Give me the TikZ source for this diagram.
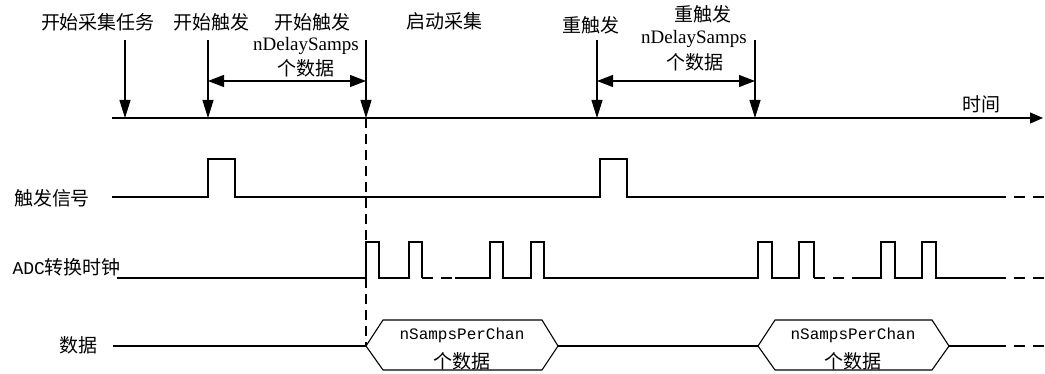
\documentclass[tikz,border=0pt]{standalone}
\usepackage{fontspec}
\setmainfont{Liberation Serif}
\setmonofont{Liberation Mono}
\newfontfamily\cjk{Noto Sans CJK SC}
\usetikzlibrary{arrows.meta}

\begin{document}
\begin{tikzpicture}[
  x=1pt, y=-1pt,
  line width=1.1pt,
  every node/.style={inner sep=0pt},
  zh/.style={font=\fontsize{19}{22}\selectfont\cjk},
  en/.style={font=\fontsize{19}{22}\selectfont\rmfamily},
  tt/.style={font=\fontsize{16}{20}\selectfont\ttfamily},
  axisarrow/.style={-{Triangle[length=13pt,width=11pt]}},
  evarrow/.style={-{Triangle[length=18pt,width=11pt]}},
  spanarrow/.style={{Triangle[length=16pt,width=12pt]}-{Triangle[length=16pt,width=12pt]}},
  tail/.style={dash pattern=on 11pt off 8pt},
  markline/.style={dash pattern=on 10pt off 6pt}]
  \useasboundingbox (0,0) rectangle (1045,374);
  % time axis
  \coordinate (axisL) at (112,118);
  \coordinate (axisR) at (1043,118);
  \draw[axisarrow] (axisL) -- (axisR);
  \node[zh] (time) at (981,104) {时间};
  \foreach \name/\x in {task/125, trig/208, start/366, retrig/597, redly/755} {
    \coordinate (\name) at (\x,118);
    \coordinate (\name top) at (\x,40);
    \draw[evarrow] (\name top) -- (\name);
  }
  \coordinate (trigspan) at (208,81);
  \coordinate (startspan) at (366,81);
  \coordinate (retrigspan) at (597,81);
  \coordinate (redlyspan) at (755,81);
  \draw[spanarrow] (trigspan) -- (startspan);
  \draw[spanarrow] (retrigspan) -- (redlyspan);
  \node[zh] (tasklbl) at (98,22) {开始采集任务};
  \node[zh] (triglbl) at (211,22) {开始触发};
  \node[zh] (dlylbl) at (312,22) {开始触发};
  \node[en] (dlyname) at (306,46) {nDelaySamps};
  \node[zh] (dlycnt) at (306,68) {个数据};
  \node[zh] (startlbl) at (444,21) {启动采集};
  \node[zh] (retriglbl) at (591,25) {重触发};
  \node[zh] (redlylbl) at (703,14) {重触发};
  \node[en] (redlyname) at (694,39) {nDelaySamps};
  \node[zh] (redlycnt) at (695,62) {个数据};
  % trigger signal
  \node[zh] (triglab) at (52,198) {触发信号};
  \draw (112,197) -- (208,197) -- (208,159) -- (235,159) -- (235,197)
    -- (600,197) -- (600,159) -- (627,159) -- (627,197) -- (995,197);
  \draw[tail] (995,197) -- (1045,197);
  % ADC clock
  \node[anchor=base west] (clklab) at (12,275) {\fontsize{18}{20}\selectfont\ttfamily ADC\fontsize{19}{22}\selectfont\cjk 转换时钟};
  \draw (117,278) -- (366,278) -- (366,242) -- (379,242) -- (379,278)
    -- (409,278) -- (409,242) -- (422,242) -- (422,278);
  \draw[tail] (422,278) -- (455,278);
  \draw (455,278) -- (490,278) -- (490,242) -- (503,242) -- (503,278)
    -- (531,278) -- (531,242) -- (544,242) -- (544,278)
    -- (758,278) -- (758,242) -- (772,242) -- (772,278)
    -- (799,278) -- (799,242) -- (814,242) -- (814,278);
  \draw[tail] (814,278) -- (853,278);
  \draw (853,278) -- (881,278) -- (881,242) -- (895,242) -- (895,278)
    -- (922,278) -- (922,242) -- (936,242) -- (936,278) -- (995,278);
  \draw[tail] (995,278) -- (1045,278);
  % data
  \node[zh] (datalab) at (78,345) {数据};
  \coordinate (hexA) at (366,346);
  \coordinate (hexAr) at (558,346);
  \coordinate (hexB) at (758,346);
  \coordinate (hexBr) at (949,346);
  \draw (113,346) -- (hexA);
  \draw (hexA) -- (383,320) -- (542,320) -- (hexAr) -- (542,370) -- (383,370) -- cycle;
  \draw (hexAr) -- (hexB);
  \draw (hexB) -- (775,320) -- (932,320) -- (hexBr) -- (932,370) -- (775,370) -- cycle;
  \draw (hexBr) -- (995,346);
  \draw[tail] (995,346) -- (1045,346);
  \node[tt] (nA) at (462,335) {nSampsPerChan};
  \node[zh] (cA) at (462,361) {个数据};
  \node[tt] (nB) at (853,335) {nSampsPerChan};
  \node[zh] (cB) at (853,361) {个数据};
  \draw[markline] (start) -- (hexA);
\end{tikzpicture}
\end{document}
